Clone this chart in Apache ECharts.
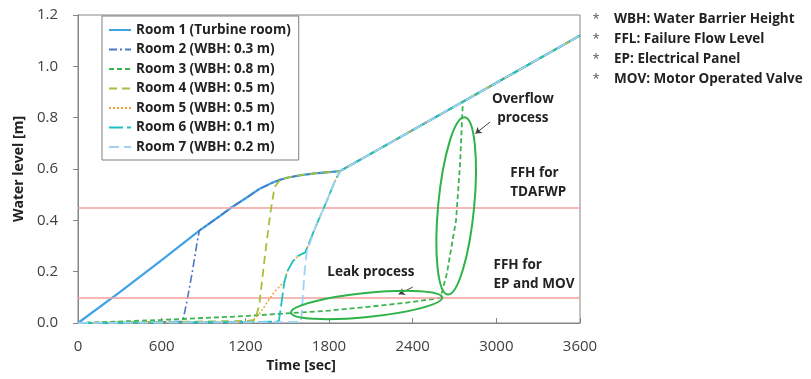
<!DOCTYPE html>
<html>
<head>
<meta charset="utf-8">
<script src="https://cdn.jsdelivr.net/npm/echarts@6/dist/echarts.min.js"></script>
<style>
  html, body { margin: 0; background: #fff; }
  #chart { width: 811px; height: 379px; }
</style>
</head>
<body>
<div id="chart"></div>
<script>
// water level [m] vs time [sec]
var room1 = [[0, 0], [300, 0.12], [600, 0.245], [870, 0.36], [1000, 0.41], [1100, 0.45], [1200, 0.485],
  [1300, 0.522], [1400, 0.548], [1450, 0.558], [1500, 0.566], [1600, 0.576], [1700, 0.583],
  [1800, 0.588], [1880, 0.592], [2200, 0.69], [2760, 0.862], [3600, 1.12]]
var room2Head = [[0, 0], [400, 0.003], [750, 0.006], [780, 0.08], [820, 0.2], [850, 0.3], [870, 0.36]]
var room3Head = [[0, 0], [600, 0.012], [1200, 0.027], [1800, 0.048], [2170, 0.068], [2400, 0.082],
  [2600, 0.098], [2646, 0.195], [2711, 0.4], [2740, 0.62], [2760, 0.862]]
var room4Head = [[0, 0], [600, 0.004], [1200, 0.008], [1270, 0.012], [1300, 0.07], [1340, 0.26],
  [1380, 0.43], [1410, 0.53], [1450, 0.558]]
var room6Head = [[0, 0], [600, 0.002], [1200, 0.004], [1440, 0.006], [1460, 0.08], [1480, 0.16],
  [1500, 0.2], [1540, 0.24], [1580, 0.262], [1630, 0.275], [1700, 0.37], [1780, 0.47],
  [1840, 0.55], [1880, 0.592]]
var room5Head = [[0, 0], [600, 0.002], [1200, 0.004], [1250, 0.008], [1300, 0.035], [1350, 0.075],
  [1400, 0.115], [1450, 0.145], [1480, 0.16]]
var room7Head = [[0, 0], [600, 0.002], [1200, 0.003], [1600, 0.004], [1612, 0.1], [1625, 0.2], [1640, 0.275]]

var ffhLevels = [0.45, 0.105]
var roomNames = ['Room 1 (Turbine room)', 'Room 2 (WBH: 0.3 m)', 'Room 3 (WBH: 0.8 m)',
  'Room 4 (WBH: 0.5 m)', 'Room 5 (WBH: 0.5 m)', 'Room 6 (WBH: 0.1 m)', 'Room 7 (WBH: 0.2 m)']
var notes = ['WBH: Water Barrier Height', 'FFL: Failure Flow Level', 'EP: Electrical Panel', 'MOV: Motor Operated Valve']

// once a room overflows it follows the level of the room it joined
function joinAfter(head, main) {
  var t = head[head.length - 1][0]
  return head.concat(main.filter(function (p) { return p[0] > t }))
}
var room6 = joinAfter(room6Head, room1)
var room2 = joinAfter(room2Head, room1)
var room3 = joinAfter(room3Head, room1)
var room4 = joinAfter(room4Head, room1)
var room5 = joinAfter(room5Head, room6)
var room7 = joinAfter(room7Head, room6)

var FONT = '"Open Sans", "Noto Sans", sans-serif'
var styles = [
  { color: '#3fa3e6', type: 'solid', width: 2.2 },
  { color: '#4a78c2', type: [8, 3, 2, 3], width: 1.6 },
  { color: '#3cb450', type: [5, 3], width: 1.8 },
  { color: '#a3c03a', type: [8, 5], width: 1.8 },
  { color: '#f0a63a', type: [2, 2], width: 1.6 },
  { color: '#1cc2c0', type: [14, 4], width: 1.8 },
  { color: '#9fd2f2', type: [10, 5], width: 1.8 }
]
var datas = [room1, room2, room3, room4, room5, room6, room7]

var series = datas.map(function (d, i) {
  return {
    name: roomNames[i],
    type: 'line',
    data: d,
    symbol: 'none',
    lineStyle: styles[i],
    itemStyle: { color: styles[i].color },
    z: 2 + i
  }
})

// FFH lines
series[0].markLine = {
  silent: true,
  symbol: 'none',
  label: { show: false },
  lineStyle: { color: '#f4a09c', type: 'solid', width: 1.5 },
  data: ffhLevels.map(function (v) { return { yAxis: v } })
}
// annotation arrows
series[2].markLine = {
  silent: true,
  symbol: ['none', 'arrow'],
  symbolSize: 6,
  label: { show: false },
  lineStyle: { color: '#404040', type: 'solid', width: 1 },
  data: [
    [{ coord: [2955, 0.783] }, { coord: [2850, 0.738] }],
    [{ coord: [2400, 0.14] }, { coord: [2300, 0.112] }]
  ]
}

var chart = echarts.init(document.getElementById('chart'))
chart.setOption({
  animation: false,
  textStyle: { fontFamily: FONT },
  grid: {
    left: 78, right: 231, top: 15, bottom: 56,
    show: true, borderColor: '#868686', borderWidth: 1
  },
  legend: {
    data: roomNames,
    orient: 'vertical',
    left: 102, top: 16,
    padding: [7, 8, 6, 6],
    itemWidth: 22, itemHeight: 14, itemGap: 5.5,
    itemStyle: { opacity: 0 },
    backgroundColor: '#fff',
    borderColor: '#7f7f7f', borderWidth: 1,
    textStyle: { fontFamily: FONT, fontSize: 13.5, fontWeight: 'bold', color: '#222' }
  },
  xAxis: {
    type: 'value',
    min: 0, max: 3600, interval: 600,
    name: 'Time [sec]',
    nameLocation: 'middle',
    nameGap: 34,
    nameTextStyle: { fontFamily: FONT, fontSize: 14, fontWeight: 'bold', color: '#222', padding: [0, 56, 0, 0] },
    axisLine: { lineStyle: { color: '#868686' } },
    axisTick: { inside: true, length: 5, lineStyle: { color: '#868686' } },
    axisLabel: {
      fontFamily: FONT, fontSize: 15, color: '#404040', margin: 16,
      formatter: function (v) { return String(v) }
    },
    splitLine: { show: false }
  },
  yAxis: {
    type: 'value',
    min: 0, max: 1.2, interval: 0.2,
    name: 'Water level [m]',
    nameLocation: 'middle',
    nameGap: 48,
    nameTextStyle: { fontFamily: FONT, fontSize: 14, fontWeight: 'bold', color: '#222' },
    axisLine: { show: true, lineStyle: { color: '#868686' } },
    axisTick: { show: true, length: 5, lineStyle: { color: '#868686' } },
    axisLabel: {
      fontFamily: FONT, fontSize: 15, color: '#404040', margin: 20,
      formatter: function (v) { return v.toFixed(1) }
    },
    splitLine: { show: false }
  },
  series: series
})

// annotations placed through the axes
function px(p) { return chart.convertToPixel({ gridIndex: 0 }, p) }
var leakC = px([2070, 0.07])
var overC = px([2712, 0.456])
var boldText = { fontFamily: FONT, fontSize: 13.5, fontWeight: 'bold', fill: '#222', lineHeight: 19 }
function label(pos, text, align) {
  return {
    type: 'text', x: pos[0], y: pos[1], z: 20,
    style: Object.assign({ text: text, align: align || 'left', verticalAlign: 'middle' }, boldText)
  }
}
var graphics = [
  {
    type: 'ellipse', x: leakC[0], y: leakC[1], rotation: 0.1, z: 15, silent: true,
    shape: { cx: 0, cy: 0, rx: 76, ry: 12 },
    style: { fill: 'none', stroke: '#2db34a', lineWidth: 2 }
  },
  {
    type: 'ellipse', x: overC[0], y: overC[1], rotation: -0.095, z: 15, silent: true,
    shape: { cx: 0, cy: 0, rx: 18, ry: 89 },
    style: { fill: 'none', stroke: '#2db34a', lineWidth: 2 }
  },
  label(px([2100, 0.2]), 'Leak process', 'center'),
  label(px([3190, 0.835]), 'Overflow\nprocess', 'center'),
  label(px([3100, 0.545]), 'FFH for\nTDAFWP'),
  label(px([2980, 0.19]), 'FFH for\nEP and MOV')
]
notes.forEach(function (n, i) {
  var y = 19 + i * 20
  graphics.push({ type: 'text', x: 596, y: y, style: { text: '*', fontFamily: FONT, fontSize: 13, fill: '#555', align: 'center', verticalAlign: 'middle' } })
  graphics.push({ type: 'text', x: 614, y: y, style: { text: n, fontFamily: FONT, fontSize: 13.5, fontWeight: 'bold', fill: '#222', verticalAlign: 'middle' } })
})
chart.setOption({ graphic: graphics })
</script>
</body>
</html>
